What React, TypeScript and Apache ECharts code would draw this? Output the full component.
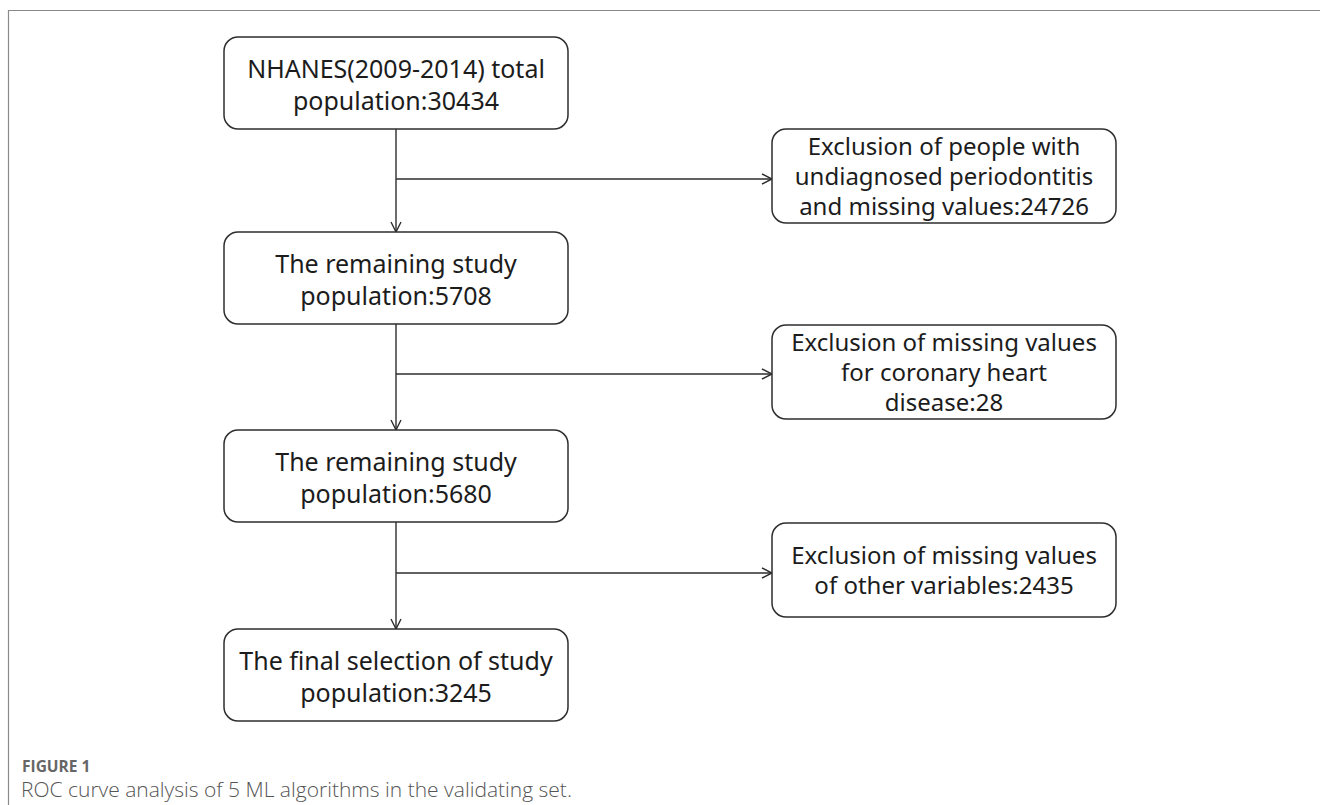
import React, { useEffect, useRef } from "react";
import * as echarts from "echarts";

// ---- data ----
const mainTitles = [
  "NHANES(2009-2014) total",
  "The remaining study",
  "The remaining study",
  "The final selection of study",
];
const mainCounts = [30434, 5708, 5680, 3245];
const mainPrefix = "population:";

const exclusionLines = [
  ["Exclusion of people with", "undiagnosed periodontitis", "and missing values:"],
  ["Exclusion of missing values", "for coronary heart", "disease:"],
  ["Exclusion of missing values", "of other variables:"],
];
const exclusionCounts = [24726, 28, 2435];

const figureLabel = "FIGURE 1";
const figureCaption = "ROC curve analysis of 5 ML algorithms in the validating set.";

// ---- layout ----
const MAIN_X = 224;
const BOX_W = 344;
const BOX_H = 92;
const MAIN_TOPS = [37, 232, 430, 629];
const SIDE_X = 772;
const SIDE_TOPS = [129, 325, 523];
const BRANCH_Y = [179, 374, 573];
const STROKE = "#2e2e2e";
const TEXT = "#1c1c1c";
const BOX_FONT = "'Noto Sans', sans-serif";

export default function App() {
  const ref = useRef<HTMLDivElement>(null);
  useEffect(() => {
    if (!ref.current) return;
    const chart = echarts.init(ref.current, undefined, { renderer: "svg" });
    const els: any[] = [];
    const cx = MAIN_X + BOX_W / 2;

    const textLine = (x: number, y: number, text: string, size: number) => ({
      type: "text",
      x,
      y,
      z: 4,
      style: {
        text,
        fill: TEXT,
        fontSize: size,
        fontFamily: BOX_FONT,
        align: "center",
        verticalAlign: "middle",
      },
    });

    // outer frame
    els.push({
      type: "rect",
      shape: { x: 8.5, y: 10.5, width: 1500, height: 1000 },
      style: { fill: "none", stroke: "#8a8a8a", lineWidth: 1.2 },
      z: 1,
    });

    // arrows
    for (let i = 0; i < MAIN_TOPS.length - 1; i++) {
      const y0 = MAIN_TOPS[i] + BOX_H;
      const y1 = MAIN_TOPS[i + 1];
      els.push({
        type: "line",
        shape: { x1: cx, y1: y0, x2: cx, y2: y1 },
        style: { stroke: STROKE, lineWidth: 1.4 },
        z: 2,
      });
      els.push({
        type: "polyline",
        shape: { points: [[cx - 5, y1 - 10], [cx, y1], [cx + 5, y1 - 10]] },
        style: { stroke: STROKE, lineWidth: 1.4, fill: "none" },
        z: 2,
      });
      const by = BRANCH_Y[i];
      els.push({
        type: "line",
        shape: { x1: cx, y1: by, x2: SIDE_X, y2: by },
        style: { stroke: STROKE, lineWidth: 1.4 },
        z: 2,
      });
      els.push({
        type: "polyline",
        shape: { points: [[SIDE_X - 10, by - 5], [SIDE_X, by], [SIDE_X - 10, by + 5]] },
        style: { stroke: STROKE, lineWidth: 1.4, fill: "none" },
        z: 2,
      });
    }

    // main boxes
    MAIN_TOPS.forEach((top, i) => {
      els.push({
        type: "rect",
        shape: { x: MAIN_X, y: top, width: BOX_W, height: BOX_H, r: 14 },
        style: { fill: "#fff", stroke: STROKE, lineWidth: 1.5 },
        z: 3,
      });
      const mid = top + BOX_H / 2;
      els.push(textLine(cx, mid - 15, mainTitles[i], 25));
      els.push(textLine(cx, mid + 17, mainPrefix + mainCounts[i], 25));
    });

    // side boxes
    SIDE_TOPS.forEach((top, i) => {
      const lines = exclusionLines[i].slice();
      lines[lines.length - 1] = lines[lines.length - 1] + exclusionCounts[i];
      const h = BOX_H + 2;
      els.push({
        type: "rect",
        shape: { x: SIDE_X, y: top, width: BOX_W, height: h, r: 14 },
        style: { fill: "#fff", stroke: STROKE, lineWidth: 1.5 },
        z: 3,
      });
      const mid = top + h / 2;
      const step = 30;
      const start = mid - ((lines.length - 1) * step) / 2;
      lines.forEach((ln, j) => {
        els.push(textLine(SIDE_X + BOX_W / 2, start + j * step - 1, ln, 24));
      });
    });

    // caption
    els.push({
      type: "text",
      x: 22,
      y: 766,
      z: 4,
      style: {
        text: figureLabel,
        fill: "#666",
        fontSize: 15.5,
        fontWeight: "bold",
        fontFamily: "'Open Sans', sans-serif",
        align: "left",
        verticalAlign: "middle",
      },
    });
    els.push({
      type: "text",
      x: 21,
      y: 789,
      z: 4,
      style: {
        text: figureCaption,
        fill: "#555",
        fontSize: 21,
        fontWeight: 300,
        fontFamily: "'Open Sans', sans-serif",
        align: "left",
        verticalAlign: "middle",
      },
    });

    chart.setOption({ animation: false, graphic: { elements: els } });
    return () => chart.dispose();
  }, []);
  return (
    <div
      ref={ref}
      style={{ position: "fixed", left: 0, top: 0, width: 1320, height: 805, background: "#fff" }}
    />
  );
}
